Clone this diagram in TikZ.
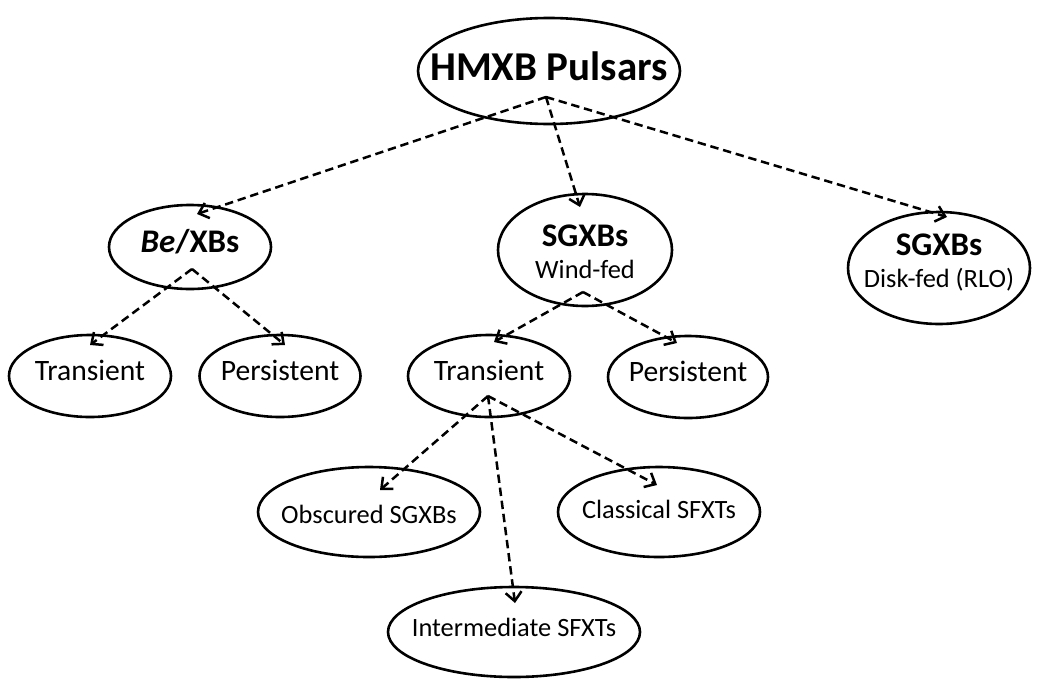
\documentclass[tikz,border=0pt]{standalone}
\usepackage{fontspec}
\setmainfont{Carlito}
\usetikzlibrary{shapes.geometric}
\usetikzlibrary{arrows.meta}
\usetikzlibrary{calc}
\newcommand{\bigfont}{\fontsize{20.5}{24}\selectfont\bfseries}
\newcommand{\midfont}{\fontsize{16.5}{20}\selectfont\bfseries}
\newcommand{\leaffont}{\fontsize{14.8}{18}\selectfont}
\newcommand{\smallfont}{\fontsize{13.2}{16}\selectfont}
\tikzset{pulsar/.style = {ellipse, draw, line width=1.3pt, inner sep=0pt},
         inside/.style 2 args = {label={[align=center, inner sep=0pt, yshift=#2]center:#1}},
         flow/.style = {-{Straight Barb[length=4.5pt,width=8pt]}, line width=1.25pt,
                        dash pattern=on 4.2pt off 2.4pt}}

\begin{document}
\begin{tikzpicture}[x=0.5pt, y=-0.5pt]
      \useasboundingbox (0, 0) rectangle (1048, 680);

      \node [pulsar, minimum width=131pt, minimum height=53pt,
             inside={\bigfont HMXB Pulsars}{2.5pt}] (hmxb) at (549, 71) {};

      \node [pulsar, minimum width=81pt, minimum height=42pt,
             inside={\midfont\textit{Be}/XBs}{2.5pt}] (bexb) at (190, 247) {};
      \node [pulsar, minimum width=87pt, minimum height=56pt,
             inside={{\midfont SGXBs}\\[4pt]{\smallfont Wind-fed}}{-1pt}] (windsg) at (585, 250) {};
      \node [pulsar, minimum width=91pt, minimum height=56pt,
             inside={{\midfont SGXBs}\\[4pt]{\smallfont Disk-fed (RLO)}}{2.5pt}] (disksg) at (939, 268) {};

      \node [pulsar, minimum width=81pt, minimum height=41pt,
             inside={\leaffont Transient}{3pt}] (betr) at (90, 376) {};
      \node [pulsar, minimum width=80.5pt, minimum height=41pt,
             inside={\leaffont Persistent}{3pt}] (bepe) at (280, 376) {};
      \node [pulsar, minimum width=81pt, minimum height=41pt,
             inside={\leaffont Transient}{3pt}] (sgtr) at (489, 376) {};
      \node [pulsar, minimum width=80pt, minimum height=41pt,
             inside={\leaffont Persistent}{3pt}] (sgpe) at (688, 377) {};

      \node [pulsar, minimum width=111pt, minimum height=45pt,
             inside={\smallfont Obscured SGXBs}{-1pt}] (obsc) at (369, 512) {};
      \node [pulsar, minimum width=101pt, minimum height=45pt,
             inside={\smallfont Classical SFXTs}{1.5pt}] (clas) at (659, 512) {};
      \node [pulsar, minimum width=126pt, minimum height=45pt,
             inside={\smallfont Intermediate SFXTs}{2.5pt}] (inte) at (514, 632) {};

      % points inside the parents where the arrows leave
      \coordinate (hmxb-out) at ($(hmxb) + (-3, 26)$);
      \coordinate (bexb-out) at ($(bexb) + (2, 22)$);
      \coordinate (windsg-out) at ($(windsg) + (-2, 42)$);
      \coordinate (sgtr-out) at ($(sgtr) + (-1, 20)$);

      \draw [flow] (hmxb-out) -- ($(bexb) + (7, -33)$);
      \draw [flow] (hmxb-out) -- ($(windsg) + (-5, -43)$);
      \draw [flow] (hmxb-out) -- ($(disksg) + (8, -51)$);

      \draw [flow] (bexb-out) -- ($(betr) + (0, -31)$);
      \draw [flow] (bexb-out) -- ($(bepe) + (5, -31)$);

      \draw [flow] (windsg-out) -- ($(sgtr) + (5, -34)$);
      \draw [flow] (windsg-out) -- ($(sgpe) + (-11, -34)$);

      \draw [flow] (sgtr-out) -- ($(obsc) + (11, -22)$);
      \draw [flow] (sgtr-out) -- ($(inte) + (1, -29)$);
      \draw [flow] (sgtr-out) -- ($(clas) + (-2, -27)$);
\end{tikzpicture}
\end{document}
